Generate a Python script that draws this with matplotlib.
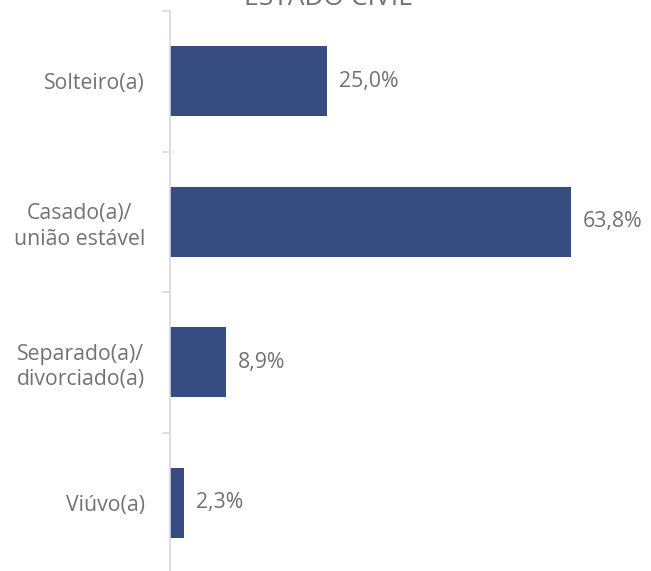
import matplotlib
matplotlib.use("Agg")
import matplotlib.pyplot as plt
from matplotlib.ticker import FixedLocator

categories = ["Solteiro(a)", "Casado(a)/\nunião estável", "Separado(a)/\ndivorciado(a)", "Viúvo(a)"]
values = [25.0, 63.8, 8.9, 2.3]
value_labels = ["25,0%", "63,8%", "8,9%", "2,3%"]

plt.rcParams['font.family'] = ['Open Sans', 'DejaVu Sans']
W, H = 651, 571
fig = plt.figure(figsize=(W/100, H/100), dpi=100)
ax = fig.add_axes([170/W, -2/H, (W-170)/W, (H-11+2)/H])

grey = '#727272'
bar_color = '#374C80'
y = list(range(len(categories)))
ax.barh(y, values, height=0.5, color=bar_color)
ax.set_ylim(len(categories) - 0.5, -0.5)
ax.set_xlim(0, 76.5)

for yi, v, lab in zip(y, values, value_labels):
    ax.annotate(lab, (v, yi), xytext=(12, 0), textcoords='offset pixels',
                va='center', ha='left', fontsize=15.3, color=grey)

ax.set_yticks(y)
ax.set_yticklabels(categories, fontsize=15.3, color=grey, linespacing=1.28)
ax.tick_params(axis='y', which='major', length=0, pad=18)
ax.yaxis.set_minor_locator(FixedLocator([i - 0.5 for i in range(len(categories) + 1)]))
ax.tick_params(axis='y', which='minor', length=6, width=1.2, color='#D9D9D9')
for lbl in ax.get_yticklabels():
    lbl.set_horizontalalignment('right')
    lbl.set_multialignment('center')

ax.set_xticks([])
for s in ['top', 'right', 'bottom']:
    ax.spines[s].set_visible(False)
ax.spines['left'].set_color('#D9D9D9')
ax.spines['left'].set_linewidth(1.2)

fig.text(328/W, 1 - 5/H, "ESTADO CIVIL", ha='center', va='baseline', fontsize=19, color=grey)

fig.savefig("out.png", dpi=100)
